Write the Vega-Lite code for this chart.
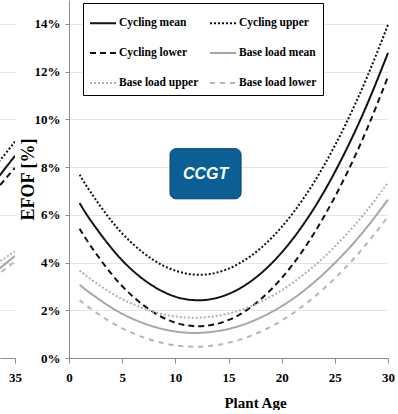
{
  "$schema": "https://vega.github.io/schema/vega-lite/v6.json",
  "padding": 0,
  "bounds": "flush",
  "spacing": 54,
  "config": {
    "view": {"stroke": null},
    "font": "Liberation Serif",
    "axis": {
      "labelFont": "Liberation Serif",
      "labelFontWeight": "bold",
      "labelFontSize": 13,
      "labelColor": "#000000",
      "labelFlush": false,
      "titleFont": "Liberation Serif",
      "titleFontWeight": "bold",
      "titleColor": "#000000",
      "domainColor": "#8c8c8c",
      "tickColor": "#8c8c8c",
      "gridColor": "#e4e4e4"
    },
    "legend": {
      "labelFont": "Liberation Serif",
      "labelFontWeight": "bold",
      "labelFontSize": 11.5,
      "labelColor": "#000000",
      "strokeColor": "#000000",
      "fillColor": "#ffffff",
      "padding": 6,
      "rowPadding": 10,
      "columnPadding": 7,
      "labelOffset": 2,
      "symbolType": "stroke",
      "symbolSize": 676,
      "symbolStrokeWidth": 2
    }
  },
  "datasets": {
    "ccgt": [
      {"age": 1, "Cycling mean": 6.49, "Cycling upper": 7.68, "Cycling lower": 5.42, "Base load mean": 3.07, "Base load upper": 3.67, "Base load lower": 2.42},
      {"age": 2, "Cycling mean": 5.79, "Cycling upper": 6.97, "Cycling lower": 4.72, "Base load mean": 2.72, "Base load upper": 3.32, "Base load lower": 2.08},
      {"age": 4, "Cycling mean": 4.60, "Cycling upper": 5.74, "Cycling lower": 3.52, "Base load mean": 2.11, "Base load upper": 2.72, "Base load lower": 1.49},
      {"age": 6, "Cycling mean": 3.66, "Cycling upper": 4.78, "Cycling lower": 2.58, "Base load mean": 1.64, "Base load upper": 2.26, "Base load lower": 1.04},
      {"age": 8, "Cycling mean": 2.99, "Cycling upper": 4.09, "Cycling lower": 1.90, "Base load mean": 1.31, "Base load upper": 1.93, "Base load lower": 0.72},
      {"age": 10, "Cycling mean": 2.57, "Cycling upper": 3.66, "Cycling lower": 1.48, "Base load mean": 1.11, "Base load upper": 1.74, "Base load lower": 0.53},
      {"age": 12, "Cycling mean": 2.42, "Cycling upper": 3.49, "Cycling lower": 1.33, "Base load mean": 1.05, "Base load upper": 1.69, "Base load lower": 0.47},
      {"age": 14, "Cycling mean": 2.53, "Cycling upper": 3.59, "Cycling lower": 1.44, "Base load mean": 1.13, "Base load upper": 1.77, "Base load lower": 0.55},
      {"age": 16, "Cycling mean": 2.90, "Cycling upper": 3.96, "Cycling lower": 1.81, "Base load mean": 1.34, "Base load upper": 1.99, "Base load lower": 0.76},
      {"age": 18, "Cycling mean": 3.53, "Cycling upper": 4.59, "Cycling lower": 2.45, "Base load mean": 1.69, "Base load upper": 2.35, "Base load lower": 1.10},
      {"age": 20, "Cycling mean": 4.42, "Cycling upper": 5.49, "Cycling lower": 3.35, "Base load mean": 2.17, "Base load upper": 2.84, "Base load lower": 1.57},
      {"age": 22, "Cycling mean": 5.57, "Cycling upper": 6.65, "Cycling lower": 4.51, "Base load mean": 2.79, "Base load upper": 3.47, "Base load lower": 2.18},
      {"age": 24, "Cycling mean": 6.98, "Cycling upper": 8.08, "Cycling lower": 5.94, "Base load mean": 3.55, "Base load upper": 4.23, "Base load lower": 2.92},
      {"age": 26, "Cycling mean": 8.66, "Cycling upper": 9.78, "Cycling lower": 7.62, "Base load mean": 4.44, "Base load upper": 5.14, "Base load lower": 3.79},
      {"age": 28, "Cycling mean": 10.59, "Cycling upper": 11.74, "Cycling lower": 9.57, "Base load mean": 5.47, "Base load upper": 6.17, "Base load lower": 4.79},
      {"age": 30, "Cycling mean": 12.78, "Cycling upper": 13.96, "Cycling lower": 11.79, "Base load mean": 6.64, "Base load upper": 7.35, "Base load lower": 5.93}
    ],
    "previous": [
      {"age": 33, "Cycling mean": 7.32, "Cycling upper": 7.97, "Cycling lower": 6.93, "Base load mean": 3.56, "Base load upper": 3.89, "Base load lower": 3.35},
      {"age": 34, "Cycling mean": 7.90, "Cycling upper": 8.50, "Cycling lower": 7.45, "Base load mean": 3.91, "Base load upper": 4.17, "Base load lower": 3.70},
      {"age": 35, "Cycling mean": 8.47, "Cycling upper": 9.07, "Cycling lower": 7.97, "Base load mean": 4.28, "Base load upper": 4.47, "Base load lower": 4.05}
    ]
  },
  "resolve": {
    "scale": {"x": "independent", "y": "independent", "color": "independent", "strokeDash": "independent"},
    "axis": {"x": "independent", "y": "independent"},
    "legend": {"color": "independent", "strokeDash": "independent"}
  },
  "hconcat": [
    {
      "width": 15,
      "height": 358,
      "data": {"name": "previous"},
      "transform": [
        {"fold": ["Cycling mean", "Cycling upper", "Cycling lower", "Base load mean", "Base load upper", "Base load lower"], "as": ["series", "efof"]}
      ],
      "mark": {"type": "line", "clip": true, "strokeWidth": 2},
      "encoding": {
        "x": {
          "field": "age", "type": "quantitative",
          "scale": {"domain": [33.6, 35], "nice": false, "zero": false},
          "axis": {"values": [35], "title": null, "grid": false, "tickSize": 5, "labelPadding": 8}
        },
        "y": {
          "field": "efof", "type": "quantitative",
          "scale": {"domain": [0, 15], "nice": false},
          "axis": {"values": [0, 2, 4, 6, 8, 10, 12, 14], "labels": false, "ticks": false, "domain": false, "title": null, "grid": true}
        },
        "color": {
          "field": "series", "type": "nominal", "legend": null,
          "scale": {
            "domain": ["Cycling mean", "Cycling lower", "Base load upper", "Cycling upper", "Base load mean", "Base load lower"],
            "range": ["#111111", "#111111", "#b0b0b0", "#111111", "#a6a6a6", "#b4b4b4"]
          }
        },
        "strokeDash": {
          "field": "series", "type": "nominal", "legend": null,
          "scale": {
            "domain": ["Cycling mean", "Cycling lower", "Base load upper", "Cycling upper", "Base load mean", "Base load lower"],
            "range": [[1, 0], [6, 4], [2, 2], [2, 2], [1, 0], [5, 5]]
          }
        }
      }
    },
    {
      "width": 319,
      "height": 358,
      "layer": [
        {
          "data": {"name": "ccgt"},
          "transform": [
            {"fold": ["Cycling mean", "Cycling upper", "Cycling lower", "Base load mean", "Base load upper", "Base load lower"], "as": ["series", "efof"]}
          ],
          "mark": {"type": "line", "interpolate": "natural", "strokeWidth": 2},
          "encoding": {
            "x": {
              "field": "age", "type": "quantitative",
              "scale": {"domain": [0, 30], "nice": false},
              "axis": {
                "values": [0, 5, 10, 15, 20, 25, 30], "grid": false, "tickSize": 5, "labelPadding": 8,
                "title": "Plant Age", "titleFontSize": 15, "titleX": 186, "titleY": 49,
                "titleAlign": "center", "titleBaseline": "alphabetic"
              }
            },
            "y": {
              "field": "efof", "type": "quantitative",
              "scale": {"domain": [0, 15], "nice": false},
              "axis": {
                "values": [0, 2, 4, 6, 8, 10, 12, 14], "grid": true, "tickSize": 4, "labelPadding": 5,
                "labelExpr": "datum.value + '%'",
                "title": "EFOF [%]", "titleFontSize": 18, "titleAngle": 270,
                "titleX": -41, "titleY": 179, "titleAlign": "center", "titleBaseline": "middle"
              }
            },
            "color": {
              "field": "series", "type": "nominal",
              "scale": {
                "domain": ["Cycling mean", "Cycling lower", "Base load upper", "Cycling upper", "Base load mean", "Base load lower"],
                "range": ["#111111", "#111111", "#b0b0b0", "#111111", "#a6a6a6", "#b4b4b4"]
              },
              "legend": {"title": null, "orient": "none", "legendX": 14, "legendY": 3, "columns": 2}
            },
            "strokeDash": {
              "field": "series", "type": "nominal",
              "scale": {
                "domain": ["Cycling mean", "Cycling lower", "Base load upper", "Cycling upper", "Base load mean", "Base load lower"],
                "range": [[1, 0], [6, 4], [2, 2], [2, 2], [1, 0], [5, 5]]
              },
              "legend": {"title": null, "orient": "none", "legendX": 14, "legendY": 3, "columns": 2}
            }
          }
        },
        {
          "data": {"values": [{}]},
          "mark": {"type": "rect", "cornerRadius": 6, "fill": "#0b5f94", "stroke": "#073f66", "strokeWidth": 1},
          "encoding": {
            "x": {"datum": 9.5, "type": "quantitative"},
            "x2": {"datum": 16.18},
            "y": {"datum": 8.77, "type": "quantitative"},
            "y2": {"datum": 6.67}
          }
        },
        {
          "data": {"values": [{}]},
          "mark": {"type": "text", "text": "CCGT", "font": "Liberation Sans", "fontWeight": "bold", "fontStyle": "italic", "fontSize": 16, "color": "#ffffff", "align": "center", "baseline": "middle"},
          "encoding": {
            "x": {"datum": 12.84, "type": "quantitative"},
            "y": {"datum": 7.72, "type": "quantitative"}
          }
        }
      ]
    }
  ]
}
